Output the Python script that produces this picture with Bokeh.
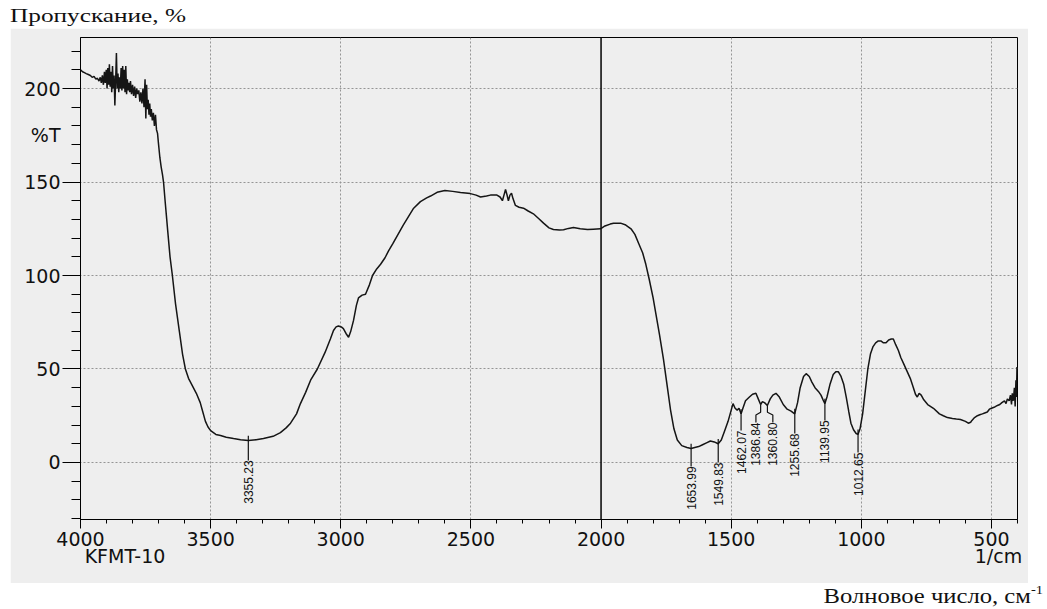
import numpy as np
from bokeh.plotting import figure
from bokeh.models import Range1d, FixedTicker, Span, ColumnDataSource, LinearAxis, Div, Spacer
from bokeh.layouts import column, row
from bokeh.embed import file_html
from bokeh.resources import INLINE
from bokeh.core.properties import value

# ---------------- data ----------------
wavenumber = [
    4000, 3992, 3985, 3978, 3970, 3962, 3955, 3948, 3941, 3935, 3929, 3924, 3920, 3916, 3912, 3908,
    3905, 3901, 3898, 3895, 3892, 3889, 3886, 3883, 3880, 3877, 3874, 3871, 3868, 3865, 3862, 3859,
    3856, 3853, 3850, 3847, 3844, 3841, 3838, 3835, 3832, 3829, 3826, 3823, 3820, 3817, 3814, 3811,
    3808, 3804, 3800, 3796, 3792, 3788, 3784, 3780, 3776, 3772, 3768, 3764, 3760, 3756, 3752, 3749,
    3746, 3743, 3740, 3737, 3734, 3731, 3728, 3724, 3720, 3716, 3712, 3708, 3704, 3700, 3695, 3690,
    3685, 3681, 3675, 3670, 3665, 3656, 3647, 3635, 3620, 3608, 3597, 3585, 3570, 3555, 3540, 3530,
    3520, 3510, 3500, 3480, 3462, 3440, 3412, 3385, 3355, 3325, 3297, 3260, 3232, 3210, 3193, 3170,
    3155, 3135, 3116, 3090, 3060, 3040, 3028, 3018, 3009, 2998, 2990, 2980, 2970, 2962, 2951, 2940,
    2932, 2918, 2905, 2890, 2878, 2862, 2847, 2830, 2817, 2800, 2780, 2760, 2740, 2720, 2694, 2670,
    2655, 2630, 2600, 2570, 2540, 2502, 2480, 2463, 2440, 2425, 2400, 2388, 2379, 2373, 2367, 2362,
    2356, 2350, 2344, 2338, 2329, 2315, 2298, 2280, 2260, 2240, 2221, 2200, 2183, 2160, 2144, 2125,
    2106, 2080, 2052, 2030, 2002, 1985, 1965, 1952, 1925, 1905, 1885, 1870, 1855, 1840, 1828, 1815,
    1800, 1790, 1775, 1760, 1745, 1733, 1720, 1707, 1690, 1670, 1654, 1640, 1625, 1610, 1595, 1580,
    1565, 1550, 1538, 1525, 1512, 1500, 1493, 1485, 1477, 1470, 1462, 1455, 1445, 1430, 1418, 1405,
    1396, 1387, 1380, 1372, 1361, 1350, 1340, 1328, 1315, 1300, 1285, 1270, 1256, 1245, 1235, 1222,
    1212, 1200, 1190, 1178, 1165, 1155, 1147, 1140, 1132, 1120, 1108, 1098, 1088, 1078, 1068, 1058,
    1048, 1040, 1030, 1020, 1013, 1005, 995, 985, 975, 965, 955, 945, 935, 925, 915, 905,
    895, 885, 877, 868, 858, 848, 838, 825, 812, 800, 792, 785, 778, 770, 760, 745,
    723, 700, 685, 669, 650, 635, 619, 600, 589, 580, 575, 565, 554, 545, 535, 526,
    516, 508, 500, 490, 477, 468, 460, 450, 444, 439, 432, 427, 423, 420, 416, 412,
    409, 406, 404, 402, 400,
]
transmittance = [
    210, 209, 208.5, 208, 207.5, 207, 206, 206.5, 205, 205.5, 204, 206, 203, 207, 202, 209,
    203, 210, 200, 211, 202, 213, 201, 209, 198, 212, 200, 207, 191, 204, 219, 200,
    208, 198, 206, 200, 211, 199, 212, 200, 210, 198, 212, 197, 205, 199, 203, 198,
    204, 197, 202, 196, 201, 195, 200, 197, 199, 193, 198, 192, 200, 190, 205, 184,
    202, 189, 194, 186, 192, 185, 189, 183, 187, 180, 186, 178, 176, 170, 163, 158,
    154, 150, 140, 132, 124, 110, 100, 85, 70, 58, 50, 45, 41, 37, 32, 27,
    22, 19, 17, 15, 14.4, 13.5, 12.8, 12.2, 11.8, 12.2, 12.8, 14, 16, 18.5, 21, 26,
    31.5, 37.5, 44, 50, 59, 66, 70.6, 72.5, 73, 72.5, 71.6, 69, 67, 70, 76, 84,
    88, 89.5, 90, 95, 100, 103.5, 106, 109.5, 113, 117, 122, 127, 131.5, 136, 139.5, 141.5,
    142.5, 144.5, 145.5, 145, 144.4, 143.8, 143, 142, 142.5, 143, 143, 142, 140, 143, 146, 143.5,
    140, 143, 144, 141, 137.5, 136.5, 136, 134.5, 133, 130.5, 128, 125.5, 124.6, 124.3, 124.5, 125.2,
    125.7, 125, 124.6, 124.8, 125, 126.5, 127.5, 128, 128, 127, 125, 122, 117, 112, 106, 98,
    88, 80, 68, 55, 40, 28, 18, 12, 9, 8, 7.5, 8, 8.5, 9.5, 10.5, 11.5,
    11, 10, 12, 17, 22, 28, 31.5, 29, 28, 29, 26, 29, 33, 35, 36.5, 37,
    34, 31, 32.5, 32, 30.5, 34, 36, 37, 35, 31, 28.5, 27.5, 26, 32, 40, 46,
    47.5, 46, 43, 40, 38, 36, 33.5, 31.5, 35, 42, 47, 48.5, 48.5, 46, 42, 35,
    27, 21, 17.5, 15.5, 15, 18, 26, 38, 50, 58, 62, 64, 65, 65, 64, 64,
    65.5, 66, 66, 63, 60, 56, 53, 49, 45, 40, 36.5, 35, 37, 36, 33.5, 31,
    29, 26, 25, 24, 23.5, 23.2, 23, 22, 21, 21.5, 22.5, 24, 25, 25.5, 26, 26.5,
    27, 28.5, 29, 29.5, 30.5, 31, 32, 33, 31.5, 34, 33, 36, 31, 37, 33, 40,
    30, 44, 35, 51, 47,
]
peak_wavenumbers = [3355.23, 1653.99, 1549.83, 1462.07, 1386.84, 1360.80, 1255.68, 1139.95, 1012.65]
peak_labels = ["3355.23", "1653.99", "1549.83", "1462.07", "1386.84", "1360.80", "1255.68", "1139.95", "1012.65"]
x_major_ticks = [4000, 3500, 3000, 2500, 2000, 1500, 1000, 500]
y_major_ticks = [0, 50, 100, 150, 200]
y_axis_name = "%T"
x_axis_name = "KFMT-10"
x_unit = "1/cm"
title_text = "Пропускание, %"
bottom_text = "Волновое число, см"
bottom_sup = "-1"

# ---------------- styling / layout helpers ----------------
BG = "#eeeeee"
SANS = "DejaVu Sans"
SERIF = "Liberation Serif"
TICK_FONT = "19px"

# placement of the rotated peak labels (top end in %T) and their column positions
label_top = [1.1, -2.1, 0.0, 17.1, 21.4, 21.4, 15.5, 22.5, 5.3]
label_x = [3355.23, 1653.99, 1549.83, 1462.07, 1405.0, 1340.0, 1255.68, 1139.95, 1012.65]

wn_arr = np.array(wavenumber[::-1], dtype=float)
t_arr = np.array(transmittance[::-1], dtype=float)

p = figure(
    width=1018, height=555,
    x_range=Range1d(4000, 400), y_range=Range1d(-30.5, 227.3),
    toolbar_location=None, output_backend="svg",
    min_border_left=70, min_border_right=11, min_border_top=9, min_border_bottom=64,
    background_fill_color=BG, border_fill_color=BG,
    outline_line_color="black", outline_line_width=1,
)

# x axis: ticks + numbers
xa = p.xaxis[0]
xa.ticker = FixedTicker(ticks=x_major_ticks, minor_ticks=list(range(400, 4001, 100)))
xa.axis_line_color = "black"
xa.major_tick_line_color = "black"
xa.minor_tick_line_color = "black"
xa.major_tick_in = 0
xa.minor_tick_in = 0
xa.major_tick_out = 9
xa.minor_tick_out = 4
xa.major_label_standoff = 3
xa.major_label_text_font = SANS
xa.major_label_text_font_size = TICK_FONT
xa.major_label_text_color = "#111111"

# y axis: tick marks only (long majors, short minors)
ya = p.yaxis[0]
ya.ticker = FixedTicker(ticks=y_major_ticks, minor_ticks=list(range(-30, 230, 10)))
ya.axis_line_color = "black"
ya.major_tick_line_color = "black"
ya.minor_tick_line_color = "black"
ya.major_tick_in = 0
ya.minor_tick_in = 0
ya.major_tick_out = 18
ya.minor_tick_out = 9
ya.major_label_standoff = 0
ya.major_label_overrides = {t: "" for t in y_major_ticks}

# y axis numbers + "%T" (outer axis, no lines)
name_pos = 175
ya2 = LinearAxis(
    ticker=FixedTicker(ticks=y_major_ticks + [name_pos], minor_ticks=[]),
    major_label_overrides={name_pos: y_axis_name},
    axis_line_color=None, major_tick_line_color=None, minor_tick_line_color=None,
    major_tick_out=0, major_tick_in=0, major_label_standoff=2,
    major_label_text_font=SANS, major_label_text_font_size=TICK_FONT,
    major_label_text_color="#111111",
)
p.add_layout(ya2, "left")

# second row under x axis: instrument name and unit
name_x, unit_x = 3829, 473
xa2 = LinearAxis(
    ticker=FixedTicker(ticks=[name_x, unit_x], minor_ticks=[]),
    major_label_overrides={name_x: x_axis_name, unit_x: x_unit},
    axis_line_color=None, major_tick_line_color=None, minor_tick_line_color=None,
    major_tick_out=0, major_tick_in=0, major_label_standoff=-4,
    major_label_text_font=SANS, major_label_text_font_size=TICK_FONT,
    major_label_text_color="#111111",
)
p.add_layout(xa2, "below")

# grid
p.xgrid.ticker = FixedTicker(ticks=[3500, 3000, 2500, 1500, 1000, 500])
p.ygrid.ticker = FixedTicker(ticks=y_major_ticks)
for g in (p.xgrid, p.ygrid):
    g.grid_line_color = "#959595"
    g.grid_line_dash = "2 2"
    g.grid_line_width = 1

p.add_layout(Span(location=2000, dimension="height", line_color="#111111", line_width=1.6))

# spectrum
p.line(wn_arr, t_arr, line_color="#151515", line_width=1.5)

# peak leaders and labels
curve_at_peak = np.interp(peak_wavenumbers, wn_arr, t_arr)
xs, ys = [], []
for wn, tc, lx, lt in zip(peak_wavenumbers, curve_at_peak, label_x, label_top):
    if abs(lx - wn) > 1:
        mid = lt + 4
        xs.append([wn, wn, lx, lx])
        ys.append([tc, mid + 1.5, mid, lt])
    else:
        xs.append([wn, wn])
        ys.append([tc + 2.5, lt])
p.multi_line(xs, ys, line_color="#111111", line_width=1.2)

src = ColumnDataSource(dict(x=label_x, y=label_top, t=peak_labels))
p.text(x="x", y="y", text="t", source=src, angle=np.pi / 2,
       text_align="right", text_baseline="middle",
       text_font=value("Liberation Sans"), text_font_size="12px", text_color="#111111")

# texts above and below the scanned chart area (the scan is stretched horizontally)
top_html = ("<span style='display:inline-block; transform:scaleX(1.33); transform-origin:left center'>"
            + title_text + "</span>")
top_div = Div(text=top_html, width=1047, height=28, margin=(0, 0, 0, 0),
              styles={"font-family": SERIF, "font-size": "19px", "line-height": "19px",
                      "padding-top": "6px", "padding-left": "10px", "color": "#111111",
                      "white-space": "nowrap", "overflow": "hidden"})
bot_html = ("<span style='display:inline-block; transform:scaleX(1.12); transform-origin:right center'>"
            + bottom_text
            + "<span style='font-size:13px; position:relative; top:-9px'>" + bottom_sup + "</span></span>")
bot_div = Div(text=bot_html, width=1047, height=26, margin=(0, 0, 0, 0),
              styles={"font-family": SERIF, "font-size": "22px", "line-height": "22px",
                      "padding-top": "2px", "padding-right": "4px", "text-align": "right",
                      "color": "#111111", "white-space": "nowrap", "width": "1047px",
                      "box-sizing": "border-box", "overflow": "hidden"})

layout = column(top_div, row(Spacer(width=10, height=555, margin=(0, 0, 0, 0)), p), bot_div, spacing=0)
open("out.html", "w").write(file_html(layout, INLINE))
